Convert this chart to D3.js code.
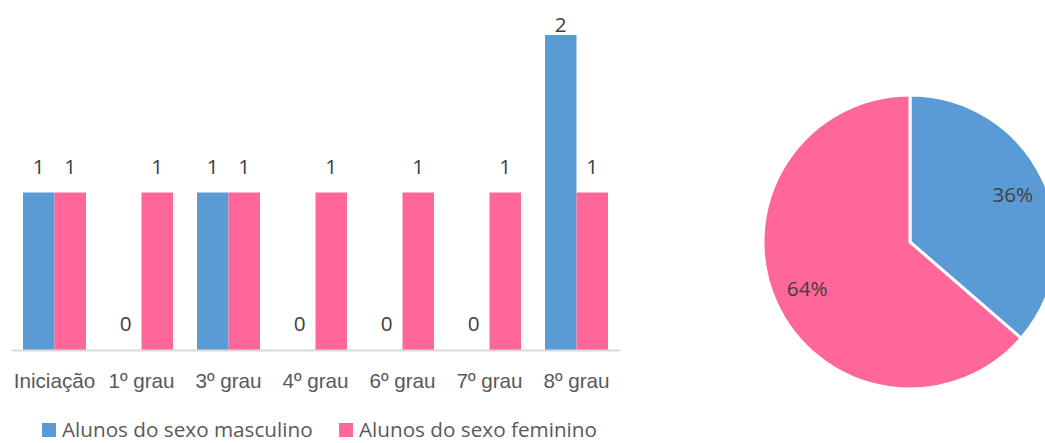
<!DOCTYPE html>
<html>
<head>
<meta charset="utf-8">
<script src="https://cdn.jsdelivr.net/npm/d3@7"></script>
<style>
  body { margin: 0; background: #fff; }
  svg { display: block; font-family: "Open Sans", sans-serif; }
</style>
</head>
<body>
<div id="chart"></div>
<script>
// data
var categories = ["Iniciação", "1º grau", "3º grau", "4º grau", "6º grau", "7º grau", "8º grau"];
var seriesNames = ["Alunos do sexo masculino", "Alunos do sexo feminino"];
var masculino = [1, 0, 1, 0, 0, 0, 2];
var feminino = [1, 1, 1, 1, 1, 1, 1];
var colors = ["#5B9BD5", "#FF6699"];

var width = 1045, height = 443;
var fontSize = "20.7px";

var svg = d3.select("#chart")
  .append("svg")
  .attr("width", width)
  .attr("height", height);

// bar chart
var x0 = d3.scaleBand()
  .domain(categories)
  .range([11, 620])
  .paddingInner(0.276)
  .paddingOuter(0.138);

var x1 = d3.scaleBand()
  .domain([0, 1])
  .range([0, x0.bandwidth()]);

var yScale = d3.scaleLinear()
  .domain([0, 2])
  .range([350, 35]);

var barData = [];
categories.forEach(function (c, i) {
  barData.push({cat: c, s: 0, v: masculino[i]});
  barData.push({cat: c, s: 1, v: feminino[i]});
});

var bars = svg.append("g").attr("class", "bars");

bars.selectAll("rect")
  .data(barData.filter(function (d) { return d.v > 0; }))
  .enter()
  .append("rect")
  .attr("x", function (d) { return x0(d.cat) + x1(d.s); })
  .attr("width", x1.bandwidth())
  .attr("y", function (d) { return yScale(d.v); })
  .attr("height", function (d) { return yScale(0) - yScale(d.v); })
  .attr("fill", function (d) { return colors[d.s]; });

// x axis
var xAxis = d3.axisBottom(x0).tickSize(0).tickPadding(23);
var gx = svg.append("g")
  .attr("class", "x axis")
  .attr("transform", "translate(0," + yScale(0) + ")")
  .call(xAxis);
gx.select(".domain").attr("stroke", "#D9D9D9").attr("stroke-width", 2);
gx.selectAll("text")
  .attr("fill", "#595959")
  .style("font-size", fontSize)
  .attr("dy", "0.71em");

// value labels
svg.append("g").attr("class", "labels")
  .selectAll("text")
  .data(barData)
  .enter()
  .append("text")
  .attr("x", function (d) { return x0(d.cat) + x1(d.s) + x1.bandwidth() / 2; })
  .attr("y", function (d) { return Math.max(yScale(d.v) - 19, 32); })
  .attr("text-anchor", "middle")
  .attr("fill", "#404040")
  .style("font-size", fontSize)
  .text(function (d) { return d.v; });

// legend (kept just inside the bottom edge)
var legendX = [42, 339];
var legend = svg.append("g").attr("class", "legend")
  .selectAll("g")
  .data(seriesNames)
  .enter()
  .append("g")
  .attr("transform", function (d, i) { return "translate(" + legendX[i] + ",423)"; });

legend.append("rect")
  .attr("width", 14)
  .attr("height", 14)
  .attr("fill", function (d, i) { return colors[i]; });

legend.append("text")
  .attr("x", 20)
  .attr("y", 14)
  .attr("fill", "#595959")
  .style("font-size", fontSize)
  .text(function (d) { return d; });

// pie chart
var totals = [d3.sum(masculino), d3.sum(feminino)];
var grand = d3.sum(totals);
var radius = 147;

var pie = d3.pie().sort(null).value(function (d) { return d; });
var arc = d3.arc().innerRadius(0).outerRadius(radius);
var labelArc = d3.arc().innerRadius(113).outerRadius(113);

var pg = svg.append("g")
  .attr("class", "pie")
  .attr("transform", "translate(910,242)");

var slices = pg.selectAll("g")
  .data(pie(totals))
  .enter()
  .append("g");

slices.append("path")
  .attr("d", arc)
  .attr("fill", function (d, i) { return colors[i]; })
  .attr("stroke", "#fff")
  .attr("stroke-width", 3)
  .attr("stroke-linejoin", "round");

slices.append("text")
  .attr("transform", function (d) { return "translate(" + labelArc.centroid(d) + ")"; })
  .attr("text-anchor", "middle")
  .attr("dy", "0.35em")
  .attr("fill", "#404040")
  .style("font-size", fontSize)
  .text(function (d) { return Math.round(d.value / grand * 100) + "%"; });
</script>
</body>
</html>
